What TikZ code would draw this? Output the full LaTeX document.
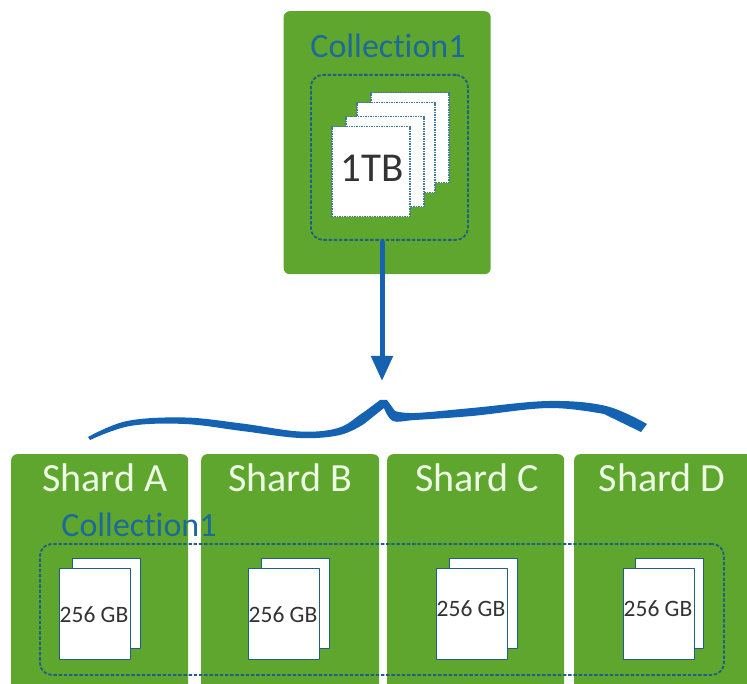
\documentclass[tikz,border=0pt]{standalone}
\usepackage{fontspec}
\setmainfont[Ligatures=NoCommon]{Carlito}
\usetikzlibrary{arrows.meta}
\definecolor{shardgreen}{HTML}{5FA62F}
\definecolor{arrowblue}{HTML}{1562B2}
\definecolor{dashblue}{HTML}{1F5F86}
\definecolor{titleblue}{HTML}{1C6A98}
\definecolor{shardwhite}{HTML}{EDFBE4}
\begin{document}
\begin{tikzpicture}[x=1pt,y=-1pt,line join=round,>={Triangle[length=25pt,width=21pt]},
	box/.style={fill=shardgreen,rounded corners=6pt,inner sep=0pt,anchor=north west},
	dashbox/.style={draw=dashblue,line width=1.8pt,dash pattern=on 3.4pt off 1.8pt,rounded corners=12pt,inner sep=0pt,anchor=north west},
	bigpage/.style={fill=white,draw=dashblue!85,line width=1.5pt,dash pattern=on 1.5pt off 1pt,inner sep=0pt,anchor=north west},
	smallpage/.style={fill=white,draw=dashblue,line width=1.4pt,inner sep=0pt,anchor=north west},
	title/.style={text=titleblue,font=\fontsize{34}{35}\selectfont,inner sep=0pt},
	shardname/.style={text=shardwhite,font=\fontsize{40}{40}\selectfont,inner sep=0pt},
	size/.style={text=black!80,font=\fontsize{23.5}{24}\selectfont,inner sep=0pt}]
	\useasboundingbox (0,0) rectangle (747,684);
	\clip (0,0) rectangle (747,684);
	\node[box,minimum width=207pt,minimum height=263pt] (top) at (283.5,11) {};
	\node[dashbox,minimum width=157pt,minimum height=165pt] (topdash) at (310,74) {};
	\node[title] (toptitle) at (388,46) {Collection1};
	\foreach \n/\x/\y in {d/370/92,c/356/102,b/345/116,a/331/126}
		\node[bigpage,minimum width=78pt,minimum height=90pt] (page\n) at (\x,\y) {};
	\node[font=\fontsize{41}{41}\selectfont,text=black!80,inner sep=0pt] (total) at (372,168) {1TB};
	\coordinate (tip) at (382,381);
	\draw[->,arrowblue,line width=5pt] (topdash.south -| tip) -- (tip);
	\fill[arrowblue] plot[smooth,tension=.6] coordinates {(88,437) (127,421) (185,417.5) (242,423.5) (300,431.5) (338,428) (361,414) (380,400)}
		-- (387,400) -- plot[smooth,tension=.6] coordinates {(395,411) (415,413) (472,408) (549,401) (606,406) (647,424)}
		-- (641,432) -- plot[smooth,tension=.6] coordinates {(604,414) (549,408) (472,416) (415,420) (393,421) (384,408)}
		-- plot[smooth,tension=.6] coordinates {(364,424) (340,435) (300,438) (242,431) (185,424) (130,426) (90,440)} -- cycle;
	\foreach \n/\x/\w/\c/\name in {a/11/177/105/Shard A,b/201/178/290/Shard B,c/387/177/477/Shard C,d/574/190/662/Shard D}{
		\node[box,minimum width=\w pt,minimum height=250pt] (shard\n) at (\x,454) {};
		\node[shardname] (name\n) at (\c,478) {\name};
	}
	\node[dashbox,minimum width=684pt,minimum height=131pt] (shardsdash) at (39,543) {};
	\node[title] (shardstitle) at (139,525) {Collection1};
	\foreach \n/\xa/\xb/\yl in {a/72/59/615,b/261/248/615,c/449/436/609,d/635/623/609}{
		\node[smallpage,minimum width=68pt,minimum height=90pt] (back\n) at (\xa,558) {};
		\node[smallpage,minimum width=71pt,minimum height=91pt] (front\n) at (\xb,568) {};
		\node[size] (size\n) at (\xb+35,\yl) {256 GB};
	}
\end{tikzpicture}
\end{document}
